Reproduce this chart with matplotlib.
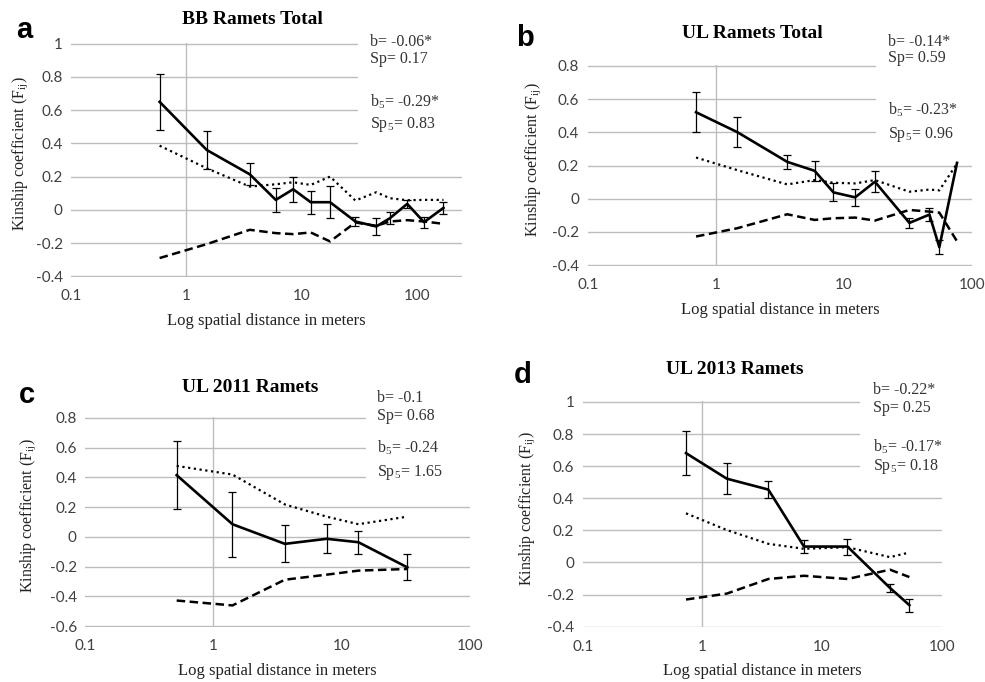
import numpy as np
import matplotlib
matplotlib.use("Agg")
import matplotlib.pyplot as plt
from matplotlib.patches import Rectangle

plt.rcParams['mathtext.fontset'] = 'custom'
plt.rcParams['mathtext.rm'] = 'Liberation Serif'

# ---------------- data ----------------
x_a = [0.585, 1.50, 3.53, 5.93, 8.39, 11.9, 17.5, 29.0, 44.0, 57.8, 81.5, 114, 168]
fij_a = [0.65, 0.36, 0.214, 0.06, 0.124, 0.046, 0.046, -0.07, -0.10, -0.05, 0.036, -0.074, 0.012]
err_a = [0.168, 0.115, 0.067, 0.073, 0.076, 0.07, 0.097, 0.027, 0.053, 0.035, 0.025, 0.033, 0.037]
up_a = [0.386, 0.25, 0.14, 0.154, 0.166, 0.15, 0.2, 0.056, 0.106, 0.07, 0.058, 0.06, 0.06]
lo_a = [-0.29, -0.206, -0.12, -0.14, -0.146, -0.136, -0.19, -0.076, -0.096, -0.07, -0.062, -0.07, -0.084]

x_b = [0.70, 1.47, 3.6, 5.89, 8.26, 12.2, 17.4, 32.3, 46.3, 55.3, 76]
fij_b = [0.521, 0.401, 0.222, 0.168, 0.038, 0.008, 0.102, -0.146, -0.096, -0.292, 0.216]
err_b = [0.122, 0.09, 0.044, 0.061, 0.055, 0.051, 0.062, 0.03, 0.038, 0.04, np.nan]
up_b = [0.248, 0.172, 0.086, 0.112, 0.096, 0.092, 0.112, 0.042, 0.055, 0.05, 0.212]
lo_b = [-0.228, -0.178, -0.094, -0.128, -0.118, -0.114, -0.132, -0.068, -0.078, -0.084, -0.257]

x_c = [0.518, 1.41, 3.61, 7.64, 13.5, 32.5]
fij_c = [0.415, 0.085, -0.047, -0.013, -0.036, -0.205]
err_c = [0.228, 0.22, 0.124, 0.098, 0.077, 0.088]
up_c = [0.477, 0.419, 0.218, 0.136, 0.085, 0.136]
lo_c = [-0.428, -0.461, -0.288, -0.254, -0.227, -0.216]

x_d = [0.73, 1.6, 3.56, 7.07, 16.3, 37, 53.7]
fij_d = [0.681, 0.522, 0.454, 0.099, 0.099, -0.159, -0.266]
err_d = [0.136, 0.098, 0.052, 0.039, 0.05, 0.023, 0.04]
up_d = [0.306, 0.202, 0.116, 0.085, 0.095, 0.033, 0.062]
lo_d = [-0.231, -0.194, -0.103, -0.083, -0.103, -0.045, -0.091]

titles = ["BB Ramets Total", "UL Ramets Total", "UL 2011 Ramets", "UL 2013 Ramets"]
letters = ["a", "b", "c", "d"]
stats = [("-0.06*", "0.17", "-0.29*", "0.83"),
         ("-0.14*", "0.59", "-0.23*", "0.96"),
         ("-0.1", "0.68", "-0.24", "1.65"),
         ("-0.22*", "0.25", "-0.17*", "0.18")]
xticks = [0.1, 1, 10, 100]
xticklabels = ["0.1", "1", "10", "100"]

# ---------------- layout (pixels) ----------------
W, H = 985, 682
fig = plt.figure(figsize=(W / 100, H / 100), dpi=100)

def fx(x):
    return x / W

def fy(y):
    return 1 - y / H

panels = [
    dict(box=(71, 462, 43, 277), xlim=(0.1, 243), ylim=(-0.4, 1.0), yt=np.arange(-0.4, 1.01, 0.2),
         data=(x_a, fij_a, err_a, up_a, lo_a), title=(252, 20), letter=(24, 30), ylab=51,
         ann=(370, [46.5, 63, 106.5, 128]), white=(358, 0, 150)),
    dict(box=(587.7, 972.3, 65.3, 265.7), xlim=(0.1, 100), ylim=(-0.4, 0.8), yt=np.arange(-0.4, 0.81, 0.2),
         data=(x_b, fij_b, err_b, up_b, lo_b), title=(752, 33), letter=(525, 38), ylab=55,
         ann=(888, [45.5, 62.5, 114.5, 137.5]), white=(875.7, 0, 148)),
    dict(box=(85, 470, 417.3, 626.7), xlim=(0.1, 100), ylim=(-0.6, 0.8), yt=np.arange(-0.6, 0.81, 0.2),
         data=(x_c, fij_c, err_c, up_c, lo_c), title=(250, 387), letter=(27, 395), ylab=57,
         ann=(377, [401.5, 419.5, 452.5, 475.5]), white=(366, 340, 490)),
    dict(box=(582.7, 941.7, 401.3, 627.3), xlim=(0.1, 100), ylim=(-0.4, 1.0), yt=np.arange(-0.4, 1.01, 0.2),
         data=(x_d, fij_d, err_d, up_d, lo_d), title=(735, 370), letter=(523, 375), ylab=56,
         ann=(873, [393.5, 411.5, 451.5, 470.5]), white=(860, 340, 480)),
]

grid_col = '#bdbdbd'
tick_col = '#404040'

for i, p in enumerate(panels):
    l, r, t, b = p['box']
    ax = fig.add_axes([fx(l), fy(b), fx(r) - fx(l), (b - t) / H])
    ax.set_xscale('log')
    ax.set_xlim(*p['xlim'])
    y0, y1 = p['ylim']
    ax.set_ylim(y0 - 0.004, y1 + 0.004)
    ax.set_axisbelow(True)
    for s in ax.spines.values():
        s.set_visible(False)
    ax.set_xticks(xticks)
    ax.set_xticklabels(xticklabels)
    ax.xaxis.set_minor_locator(matplotlib.ticker.NullLocator())
    yt = np.round(p['yt'], 1)
    ax.set_yticks(yt)
    ax.set_yticklabels(["0" if abs(v) < 1e-9 else ("1" if abs(v - 1) < 1e-9 else f"{v:g}") for v in yt])
    ax.tick_params(length=0, labelsize=11, labelcolor=tick_col)
    ax.tick_params(axis='x', pad=9)
    ax.tick_params(axis='y', pad=6)
    for lab in ax.get_xticklabels() + ax.get_yticklabels():
        lab.set_fontfamily('Lato')
    ax.yaxis.grid(True, color=grid_col, lw=1.0)
    ax.xaxis.grid(False)
    ax.axvline(1, color=grid_col, lw=1.0, zorder=0.6)

    # white box hiding gridlines behind the statistics
    wx, wt, wb = p['white']
    rect = Rectangle((fx(wx), fy(wb)), 1, (wb - wt) / H, transform=fig.transFigure,
                     facecolor='white', edgecolor='none', zorder=1, clip_on=False)
    ax.add_patch(rect)

    xs, fij, err, up, lo = p['data']
    ax.plot(xs, up, color='black', lw=1.6, ls=(0, (1, 1.6)), zorder=2)
    ax.plot(xs, lo, color='black', lw=1.8, ls=(0, (3.4, 1.8)), zorder=2)
    ax.errorbar(xs, fij, yerr=err, color='black', lw=1.9, elinewidth=0.9,
                capsize=3, capthick=0.9, zorder=3)

    ax.set_xlabel("Log spatial distance in meters", fontfamily='Liberation Serif', fontsize=12, color='#222222')
    ax.xaxis.label.set_va('center')
    ax.xaxis.set_label_coords(0.5, -44 / (b - t), transform=ax.transAxes)
    ax.set_ylabel(r"Kinship coefficient (F$_\mathregular{ij}$)", fontfamily='Liberation Serif', fontsize=11.5,
                  color='#222222')
    ax.yaxis.label.set_va('center')
    ax.yaxis.set_label_coords(-p['ylab'] / (r - l), 0.5 + 6 / (b - t))

    tx, ty = p['title']
    fig.text(fx(tx), fy(ty), titles[i], ha='center', va='center', fontfamily='Liberation Serif',
             fontweight='bold', fontsize=14)
    lx, ly = p['letter']
    fig.text(fx(lx), fy(ly), letters[i], ha='center', va='center', fontfamily='Liberation Sans',
             fontweight='bold', fontsize=21)

    axx, ys = p['ann']
    bval, spval, b5, sp5 = stats[i]
    lines = [f"b= {bval}", f"Sp= {spval}", r"b$_\mathregular{5}$= " + b5, r"Sp$_\mathregular{5}$= " + sp5]
    for txt, yy in zip(lines, ys):
        fig.text(fx(axx), fy(yy), txt, ha='left', va='baseline', fontfamily='Liberation Serif',
                 fontsize=11.5, color='#333333')

fig.savefig("out.png", dpi=100)
